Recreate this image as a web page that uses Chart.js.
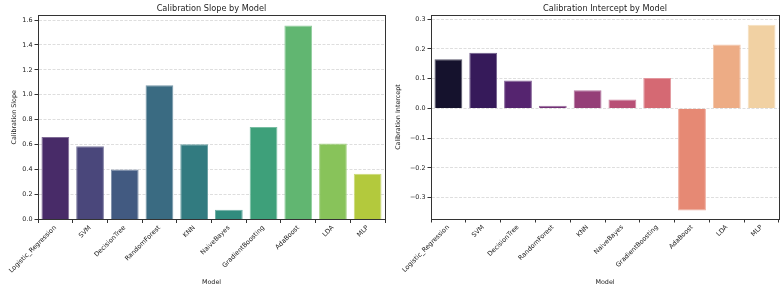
<!DOCTYPE html>
<html>
<head>
<meta charset="utf-8">
<script src="https://cdn.jsdelivr.net/npm/chart.js@4.4.0/dist/chart.umd.min.js"></script>
<style>
  body { margin: 0; background: #fff; }
  .wrap { position: absolute; top: 0; width: 392px; height: 290px; }
  #w1 { left: 0; }
  #w2 { left: 392px; }
</style>
</head>
<body>
<div class="wrap" id="w1"><canvas id="slope" width="392" height="290"></canvas></div>
<div class="wrap" id="w2"><canvas id="intercept" width="392" height="290"></canvas></div>
<script>
const models = ["Logistic_Regression", "SVM", "DecisionTree", "RandomForest", "KNN",
  "NaiveBayes", "GradientBoosting", "AdaBoost", "LDA", "MLP"];
const slopes = [0.662, 0.588, 0.401, 1.077, 0.604, 0.078, 0.742, 1.556, 0.610, 0.366];
const intercepts = [0.165, 0.187, 0.094, 0.009, 0.061, 0.030, 0.102, -0.343, 0.215, 0.281];

// seaborn "viridis" / "magma" with 10 colours
const viridis = ["#482172", "#423e84", "#38588b", "#2e6f8e", "#25868d",
  "#229b88", "#2eb07d", "#53c468", "#86d449", "#c3e026"];
const magma = ["#120d32", "#340f65", "#59177c", "#7d2481", "#a3317d",
  "#c93f71", "#e75764", "#f97d61", "#fea874", "#fed396"];

const FONT = "'DejaVu Sans', 'Liberation Sans', sans-serif";
const INK = "#222";

// barplot saturation=0.75
function desat(hex, p) {
  const c = [1, 3, 5].map(i => parseInt(hex.slice(i, i + 2), 16) / 255);
  const l = (Math.max(...c) + Math.min(...c)) / 2;
  const o = c.map(v => Math.round((l + (v - l) * p) * 255));
  return `rgb(${o[0]},${o[1]},${o[2]})`;
}
function lighten(rgb, f) {
  const o = rgb.match(/\d+/g).map(Number).map(v => Math.round(v + (255 - v) * f));
  return `rgb(${o[0]},${o[1]},${o[2]})`;
}

const frame = {
  id: "frame",
  afterDraw(chart) {
    const { ctx, chartArea: a } = chart;
    ctx.save();
    ctx.strokeStyle = "#333";
    ctx.lineWidth = 1;
    ctx.strokeRect(Math.round(a.left) + 0.5, Math.round(a.top) + 0.5,
      Math.round(a.right - a.left), Math.round(a.bottom - a.top));
    ctx.restore();
  }
};

function fmt(v) {
  const s = Math.abs(v) < 1e-9 ? "0.0" : v.toFixed(1);
  return s.replace("-", "\u2212");
}

function makeChart(id, title, ylabel, values, palette, yMin, yMax, yStep, yWidth, xHeight, padRight, yTitlePad) {
  const fill = palette.map(c => desat(c, 0.75));
  new Chart(document.getElementById(id), {
    type: "bar",
    data: {
      labels: models,
      datasets: [{
        data: values,
        backgroundColor: fill,
        borderColor: fill.map(c => lighten(c, 0.3)),
        borderWidth: 1,
        categoryPercentage: 0.8,
        barPercentage: 1.0
      }]
    },
    options: {
      responsive: false,
      animation: false,
      devicePixelRatio: 1,
      layout: { padding: { top: 0, right: padRight, left: 0, bottom: 0 } },
      plugins: {
        legend: { display: false },
        tooltip: { enabled: false },
        title: {
          display: true,
          text: title,
          fullSize: false,
          color: INK,
          font: { family: FONT, size: 8.2, weight: "normal" },
          padding: { top: 4, bottom: 1.2 }
        }
      },
      scales: {
        x: {
          afterFit: s => { s.height = xHeight; },
          grid: { drawOnChartArea: false, drawTicks: true, tickLength: 3.5, color: "#333" },
          border: { display: true, color: "#333" },
          ticks: {
            color: INK, font: { family: FONT, size: 6.5 },
            minRotation: 45, maxRotation: 45, autoSkip: false, padding: 1
          },
          title: {
            display: true, text: "Model", color: INK,
            font: { family: FONT, size: 6.4 }, padding: { top: 0, bottom: 4 }
          }
        },
        y: {
          min: yMin, max: yMax,
          z: 1,
          afterFit: s => { s.width = yWidth; },
          grid: {
            color: "rgba(185,185,185,0.6)", lineWidth: 0.8,
            drawTicks: true, tickLength: 3.5, tickColor: "#333", tickBorderDash: [], tickWidth: 1
          },
          border: { display: true, color: "#333", dash: [3, 1.5] },
          ticks: {
            stepSize: yStep, includeBounds: false, padding: 2,
            color: INK, font: { family: FONT, size: 6.4 },
            callback: v => fmt(v)
          },
          title: {
            display: true, text: ylabel, color: INK,
            font: { family: FONT, size: 6.4 }, padding: { top: yTitlePad, bottom: 0 }
          }
        }
      }
    },
    plugins: [frame]
  });
}

makeChart("slope", "Calibration Slope by Model", "Calibration Slope",
  slopes, viridis, 0, 1.64, 0.2, 38, 70.5, 7, 11);
makeChart("intercept", "Calibration Intercept by Model", "Calibration Intercept",
  intercepts, magma, -0.372, 0.314, 0.1, 39, 71, 5, 3);
</script>
</body>
</html>
